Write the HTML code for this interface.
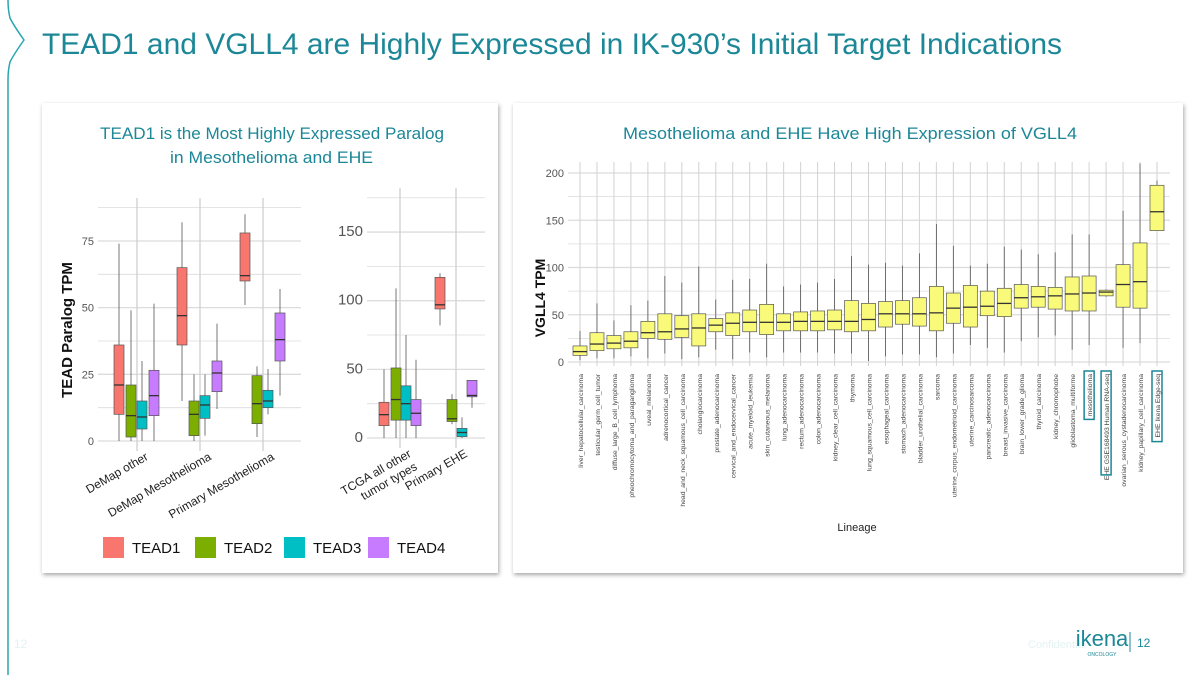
<!DOCTYPE html>
<html><head><meta charset="utf-8">
<style>
body{margin:0;width:1200px;height:675px;background:#fff;overflow:hidden;font-family:"Liberation Sans",sans-serif;}
svg{position:absolute;left:0;top:0}
</style></head>
<body>
<svg id="s" width="1200" height="675" xmlns="http://www.w3.org/2000/svg">
<defs>
<filter id="sh" x="-5%" y="-5%" width="110%" height="110%"><feDropShadow dx="1" dy="2" stdDeviation="2" flood-color="#000" flood-opacity="0.35"/></filter>
</defs>
<path d="M8 0 Q8 10 10 18 Q14 26 24 40 Q14 54 10 62 Q8 70 8 80 L8 675" fill="none" stroke="#2aa5b0" stroke-width="1.5"/>
<text x="42" y="54" font-size="30" fill="#1b8797" textLength="1020" lengthAdjust="spacingAndGlyphs">TEAD1 and VGLL4 are Highly Expressed in IK-930’s Initial Target Indications</text>
<rect x="42" y="103" width="456" height="470" fill="#fff" filter="url(#sh)"/>
<rect x="513" y="103" width="670" height="470" fill="#fff" filter="url(#sh)"/>
<text x="100" y="139" font-size="17" fill="#1b8797" textLength="344" lengthAdjust="spacingAndGlyphs">TEAD1 is the Most Highly Expressed Paralog</text>
<text x="170" y="163" font-size="17" fill="#1b8797" textLength="203" lengthAdjust="spacingAndGlyphs">in Mesothelioma and EHE</text>
<text x="623" y="139" font-size="17" fill="#1b8797" textLength="454" lengthAdjust="spacingAndGlyphs">Mesothelioma and EHE Have High Expression of VGLL4</text>
<text transform="translate(72,330) rotate(-90)" font-size="15" font-weight="bold" text-anchor="middle" fill="#111">TEAD Paralog TPM</text>
<text transform="translate(545,298) rotate(-90)" font-size="14" font-weight="bold" text-anchor="middle" fill="#111">VGLL4 TPM</text>
<text x="857" y="531" font-size="11" text-anchor="middle" fill="#222">Lineage</text>
<g id="g1"></g><g id="g2"></g><g id="g3"></g><g id="lg"></g>
<text x="1028" y="648" font-size="11" fill="#e4f2f4">Confidential</text>
<text x="1102" y="646" font-size="22" fill="#1b8797" text-anchor="middle">ikena</text>
<text x="1102" y="656" font-size="5" fill="#1b8797" text-anchor="middle">ONCOLOGY</text>
<line x1="1130" y1="632" x2="1130" y2="652" stroke="#1b8797"/>
<text x="1137" y="647" font-size="12" fill="#1b8797">12</text>
<text x="14" y="648" font-size="12" fill="#e4f2f4">12</text>
</svg>
<script>
// ---- Left chart A data (lo,q1,med,q3,hi) ----
const groupsA = ["DeMap other","DeMap Mesothelioma","Primary Mesothelioma"];
const tead1A = [[0,10,21,36,74],[15,36,47,65,82],[51,60,62,78,85]];
const tead2A = [[0,1.5,9.5,21,49],[0,2,10,15,25],[1.5,6.5,14,24.5,28]];
const tead3A = [[0,4.5,9,15,30],[2,8.5,13.5,17,25],[10,12.5,15,19,27]];
const tead4A = [[0,9.5,17,26.5,51.5],[12,18.5,25.5,30,44],[17,30,38,48,57]];
const ticksA = [0,25,50,75];
// ---- Left chart B data ----
const groupsB = ["TCGA all other|tumor types","Primary EHE"];
const tead1B = [[0,9,17,26,50],[82,94,97,117,120]];
const tead2B = [[0,13,28,51,109],[10,12,14,28,32]];
const tead3B = [[0,13,25,38,75],[0,1,4,7,15]];
const tead4B = [[0,9,18,28,57],[22,30,31,42,42]];
const ticksB = [0,50,100,150];
// ---- Right chart data ----
const lineages = ["liver_hepatocellular_carcinoma","testicular_germ_cell_tumor","diffuse_large_B_cell_lymphoma","pheochromocytoma_and_paraganglioma","uveal_melanoma","adrenocortical_cancer","head_and_neck_squamous_cell_carcinoma","cholangiocarcinoma","prostate_adenocarcinoma","cervical_and_endocervical_cancer","acute_myeloid_leukemia","skin_cutaneous_melanoma","lung_adenocarcinoma","rectum_adenocarcinoma","colon_adenocarcinoma","kidney_clear_cell_carcinoma","thymoma","lung_squamous_cell_carcinoma","esophageal_carcinoma","stomach_adenocarcinoma","bladder_urothelial_carcinoma","sarcoma","uterine_corpus_endometrioid_carcinoma","uterine_carcinosarcoma","pancreatic_adenocarcinoma","breast_invasive_carcinoma","brain_lower_grade_glioma","thyroid_carcinoma","kidney_chromophobe","glioblastoma_multiforme","mesothelioma","EHE GSE168493 Human RNA-seq","ovarian_serous_cystadenocarcinoma","kidney_papillary_cell_carcinoma","EHE Ikena Edge-seq"];
const vgllLo  = [2,4,4,6,4,9,3,5,13,3,10,5,10,10,10,9,9,1,6,8,8,5,9,18,15,10,22,26,28,13,18,69,15,20,139];
const vgllQ1  = [7,12,14,15,25,24,26,17,32,28,32,29,33,33,33,34,32,33,37,40,38,33,41,37,49,48,57,58,56,54,54,70,58,57,139];
const vgllMed = [11,19,20,22,31,32,35,36,39,41,42,42,42,43,43,43,43,45,51,51,51,52,57,58,59,62,68,69,70,72,73,74,82,85,159];
const vgllQ3  = [17,31,28,32,43,51,49,51,46,52,55,61,51,53,54,55,65,62,64,65,68,80,73,81,75,78,82,80,79,90,91,76,103,126,187];
const vgllHi  = [33,62,44,60,65,91,84,101,66,87,88,104,80,82,84,88,112,103,105,102,115,146,123,102,104,122,119,114,116,135,135,77,160,210,192];
const ticksR = [0,50,100,150,200];
const highlighted = ["mesothelioma","EHE GSE168493 Human RNA-seq","EHE Ikena Edge-seq"];
const colors = ["#f8766d","#7cae00","#00bfc4","#c77cff"];
const names = ["TEAD1","TEAD2","TEAD3","TEAD4"];

const NS="http://www.w3.org/2000/svg";
function mk(parent,tag,attrs){const e=document.createElementNS(NS,tag);for(const k in attrs)e.setAttribute(k,attrs[k]);parent.appendChild(e);return e;}

function boxplot(g,cx,w,v,y,fill,name){
  const wl=mk(g,'line',{x1:cx,x2:cx,y1:y(v[0]),y2:y(v[4]),stroke:'#555','stroke-width':0.8});
  
  
  const r=mk(g,'rect',{x:cx-w/2,y:y(v[3]),width:w,height:Math.max(1,y(v[1])-y(v[3])),fill:fill,stroke:'#555','stroke-width':0.7});
  
  
  const m=mk(g,'line',{x1:cx-w/2,x2:cx+w/2,y1:y(v[2]),y2:y(v[2]),stroke:'#333','stroke-width':1.3});
  
  
}

function panel(g,opt){
  const {x0,x1,yBase,pxPer,ticks,minor,top,groups,centers,series,offs,bw}=opt;
  const y=v=>yBase-v*pxPer;
  for(let v=0;y(v)>=top-1;v+=minor){
    const l=mk(g,'line',{x1:x0,x2:x1,y1:y(v),y2:y(v),stroke:'#dcdcdc','stroke-width':ticks.includes(v)?1.3:0.8});
    
    
  }
  ticks.forEach(t=>{
    const tx=mk(g,'text',{x:x0-4,y:y(t)+4,'font-size':opt.fs,'text-anchor':'end',fill:'#555'});
    tx.textContent=t;
    
    
  });
  groups.forEach((gname,i)=>{
    const cx=centers[i];
    const vl=mk(g,'line',{x1:cx,x2:cx,y1:top-10,y2:yBase+10,stroke:'#cfcfcf','stroke-width':1.3});
    
    
    series.forEach((s,k)=>boxplot(g,cx+offs[k],bw,s[i],y,colors[k],names[k].toLowerCase()+'-'+i));
    const parts=gname.split('|');
    parts.forEach((p,j)=>{
      const tx=mk(g,'text',{transform:`translate(${cx+12+j*6},${yBase+18+j*13}) rotate(-30)`,'font-size':12,'text-anchor':'end',fill:'#222'});
      tx.textContent=p;
      
      
    });
  });
}
const sA=[tead1A,tead2A,tead3A,tead4A];
panel(document.getElementById('g1'),{x0:98,x1:301,yBase:441,pxPer:2.667,ticks:ticksA,minor:12.5,top:208,groups:groupsA,centers:[137,200,263],series:sA,offs:[-18,-6,5,17],bw:10,fs:11});
const sB=[tead1B,tead2B,tead3B,tead4B];
panel(document.getElementById('g2'),{x0:367,x1:485,yBase:438,pxPer:1.373,ticks:ticksB,minor:25,top:198,groups:groupsB,centers:[400,456],series:sB,offs:[-16,-4,6,16],bw:10,fs:15});

// right chart
(function(){
  const g=document.getElementById('g3');
  const x0=568,x1=1170,yBase=362,pxPer=0.945;
  const y=v=>yBase-v*pxPer;
  const n=lineages.length, step=(1157-580)/(n-1);
  const xc=i=>580+i*step;
  for(let v=0;v<=210;v+=25){
    const l=mk(g,'line',{x1:x0,x2:x1,y1:y(v),y2:y(v),stroke:'#dcdcdc','stroke-width':v%50===0?1.3:0.8});
    
    
  }
  ticksR.forEach(t=>{
    const tx=mk(g,'text',{x:x0-4,y:y(t)+4,'font-size':11,'text-anchor':'end',fill:'#555'});
    tx.textContent=t;
    
    
  });
  lineages.forEach((name,i)=>{
    const cx=xc(i);
    const vl=mk(g,'line',{x1:cx,x2:cx,y1:162,y2:366,stroke:'#d2d2d2','stroke-width':1});
    
    
    boxplot(g,cx,14,[vgllLo[i],vgllQ1[i],vgllMed[i],vgllQ3[i],vgllHi[i]],y,'#fafa7a','lineage-'+i);
    const tx=mk(g,'text',{transform:`translate(${cx+3},374) rotate(-90)`,'font-size':6.8,'text-anchor':'end',fill:'#444'});
    tx.textContent=name;
    
    
    if(highlighted.includes(name)){
      const len=name.length*3.7+4;
      const hr=mk(g,'rect',{x:cx-5,y:371,width:10,height:len,fill:'none',stroke:'#1b8797','stroke-width':1.5});
      
      
    }
  });
})();

// legend
(function(){
  const g=document.getElementById('lg');
  const xs=[103,195,284,368];
  names.forEach((nm,k)=>{
    const r=mk(g,'rect',{x:xs[k],y:537,width:21,height:21,fill:colors[k]});
    
    
    const t=mk(g,'text',{x:xs[k]+29,y:553,'font-size':15,fill:'#111'});
    t.textContent=nm;
    
    
  });
})();
</script>
</body></html>
